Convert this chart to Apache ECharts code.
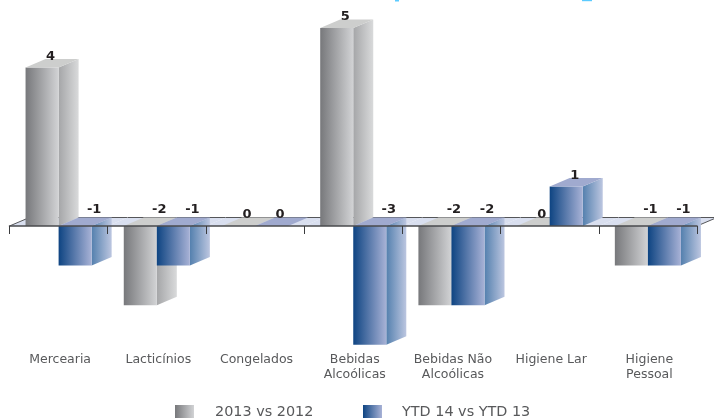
<!DOCTYPE html>
<html><head><meta charset="utf-8">
<style>html,body{margin:0;padding:0;background:#fff}#c{width:714px;height:418px}</style>
<script src="https://cdn.jsdelivr.net/npm/echarts@6/dist/echarts.min.js"></script>
</head><body><div id="c"></div>
<script>
const categories = ['Mercearia','Lacticínios','Congelados','Bebidas\nAlcoólicas','Bebidas Não\nAlcoólicas','Higiene Lar','Higiene\nPessoal'];
const seriesGrey = [4,-2,0,5,-2,0,-1];
const seriesBlue = [-1,-1,0,-3,-2,1,-1];
const nameGrey = '2013 vs 2012';
const nameBlue = 'YTD 14 vs YTD 13';
const LG = (a,b)=>({type:'linear',x:0,y:0,x2:1,y2:0,colorStops:[{offset:0,color:a},{offset:1,color:b}]});
const FONT = 'DejaVu Sans';
const DX = 20, DY = 8.5;

const palettes = {
  grey:{front:LG('#77787b','#d2d3d5'),side:LG('#a5a6a8','#d9dadb'),top:'#cdcecd'},
  blue:{front:LG('#0e4482','#a8b2d6'),side:LG('#5480ae','#bcc6e0'),top:'#a0aacf'}
};

function barRender(pal, dir){
  return function(params, api){
    const i = api.value(0), v = api.value(1);
    const base = api.coord([i,0]), tip = api.coord([i,v]);
    const w = api.size([1,0])[0]*0.3365;
    const x0 = dir<0 ? base[0]-w : base[0], x1 = x0+w;
    const yTop = Math.min(base[1],tip[1]), yBot = Math.max(base[1],tip[1]);
    const children = [];
    if (yBot>yTop){
      children.push({type:'polygon',shape:{points:[[x1,yTop],[x1+DX,yTop-DY],[x1+DX,yBot-DY],[x1,yBot]]},style:{fill:pal.side}});
      children.push({type:'rect',shape:{x:x0,y:yTop,width:w,height:yBot-yTop},style:{fill:pal.front}});
    }
    children.push({type:'polygon',shape:{points:[[x0,yTop],[x1,yTop],[x1+DX,yTop-DY],[x0+DX,yTop-DY]]},style:{fill:pal.top}});
    const neg = v<0;
    children.push({type:'text',style:{text:String(v),x:(x0+x1)/2+(neg?19:8.5),y:neg?base[1]-16:yTop-11,
      align:'center',verticalAlign:'middle',fill:'#231f20',font:'bold 13px "'+FONT+'"'}});
    return {type:'group',children};
  };
}

function floorRender(params, api){
  const i = api.value(0);
  const c = api.coord([i,0]), b = api.size([1,0])[0];
  const x0=c[0]-b/2, x1=c[0]+b/2, y=c[1];
  return {type:'group',children:[
    {type:'polygon',shape:{points:[[x0,y],[x1,y],[x1+DX,y-DY],[x0+DX,y-DY]]},style:{fill:'#d9dfef'}},
    {type:'line',shape:{x1:x0+DX,y1:y-DY,x2:x1+DX,y2:y-DY},style:{stroke:'#555659',lineWidth:1}},
    ...(i===0?[{type:'line',shape:{x1:x0,y1:y,x2:x0+DX,y2:y-DY},style:{stroke:'#555659',lineWidth:1}}]:[]),
    ...(i===categories.length-1?[{type:'line',shape:{x1:x1,y1:y,x2:x1+DX,y2:y-DY},style:{stroke:'#555659',lineWidth:1}}]:[])
  ]};
}

const chart = echarts.init(document.getElementById('c'),null,{renderer:'canvas'});
chart.setOption({
  animation:false,
  backgroundColor:'#fff',
  grid:{left:9.5,right:17,top:28,bottom:73.2,outerBoundsMode:'none'},
  graphic:[
    {type:'rect',shape:{x:395,y:0,width:4,height:1.5},style:{fill:'#5ccbff'},silent:true},
    {type:'rect',shape:{x:582,y:0,width:10,height:1.2},style:{fill:'#5ccbff'},silent:true}
  ],
  xAxis:{type:'category',data:categories,z:10,
    axisLine:{onZero:true,lineStyle:{color:'#4a4b4d',width:1.5}},
    axisTick:{show:true,length:8,alignWithLabel:false,lineStyle:{color:'#3a3b3d',width:1}},
    axisLabel:{interval:0,margin:7,color:'#58595b',fontFamily:FONT,fontSize:12.5,lineHeight:15,padding:[0,0,0,3]}},
  yAxis:{type:'value',min:-3,max:5,interval:1,show:false},
  legend:[
    {data:[nameGrey],left:175,top:405,padding:0,itemWidth:19,itemHeight:14,icon:'rect',textStyle:{color:'#58595b',fontFamily:FONT,fontSize:14.4,padding:[0,0,4,16]}},
    {data:[nameBlue],left:363,top:405,padding:0,itemWidth:19,itemHeight:14,icon:'rect',textStyle:{color:'#58595b',fontFamily:FONT,fontSize:14.4,padding:[0,0,4,15]}}
  ],
  series:[
    {type:'custom',name:'floor',z:1,silent:true,renderItem:floorRender,encode:{x:0,y:1},data:categories.map((c,i)=>[i,0])},
    {type:'custom',name:nameGrey,z:2,renderItem:barRender(palettes.grey,-1),itemStyle:{color:palettes.grey.front},encode:{x:0,y:1},data:seriesGrey.map((v,i)=>[i,v])},
    {type:'custom',name:nameBlue,z:3,renderItem:barRender(palettes.blue,1),itemStyle:{color:palettes.blue.front},encode:{x:0,y:1},data:seriesBlue.map((v,i)=>[i,v])}
  ]
});
</script></body></html>
